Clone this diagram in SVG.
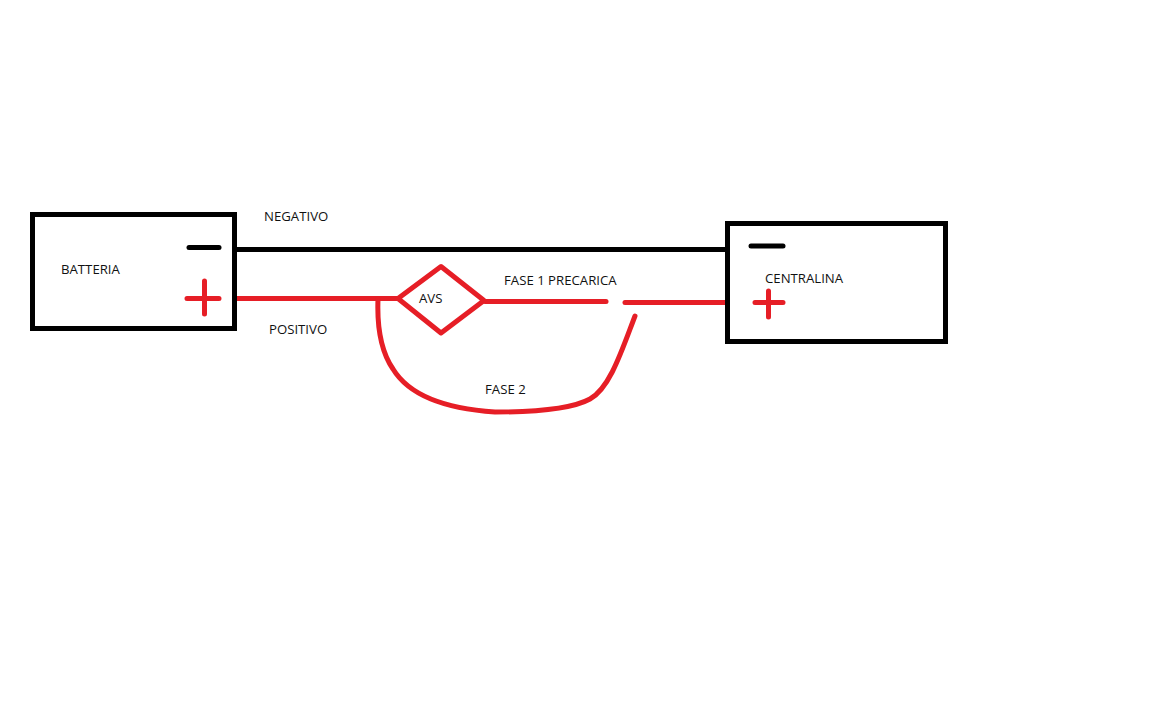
<svg xmlns="http://www.w3.org/2000/svg" width="1152" height="720" viewBox="0 0 1152 720">
<style>
.box{fill:#fff;stroke:#000;stroke-width:5}
.k{fill:none;stroke:#000;stroke-width:5}
.kr{fill:none;stroke:#000;stroke-width:5;stroke-linecap:round}
.r{fill:none;stroke:#e61e26;stroke-width:5;stroke-linecap:round}
.d{fill:#fff;stroke:#e61e26;stroke-width:5;stroke-linejoin:round}
text{font-family:"Open Sans","Noto Sans","Liberation Sans",sans-serif;font-size:13.200px;fill:#111}
</style>
<rect width="1152" height="720" fill="#fff"/>
<g id="connectors">
<path id="negativo-line" class="k" d="M236 249.500H726"/>
<path id="positivo-line" class="r" d="M235 298.500H398"/>
<path id="fase1-a" class="r" d="M485 301.500H606"/>
<path id="fase1-b" class="r" d="M625 302.500H726"/>
<path id="fase2" class="r" d="M378 299C377 325 380 350 393 369C410 397 450 409 495 412C530 412 570 410 590 399C610 388 622 350 635 316"/>
</g>
<g id="batteria">
<rect class="box" x="32.500" y="214.500" width="202" height="114"/>
<path class="kr" d="M189 247.500H219"/>
<path class="r" d="M187 298.500H219M204.500 281V314"/>
<text x="61" y="274">BATTERIA</text>
</g>
<g id="avs">
<path class="d" d="M398 298.500L441 266.500L484 300.500L441 333Z"/>
<text x="419" y="303">AVS</text>
</g>
<g id="centralina">
<rect class="box" x="727.500" y="223.500" width="218" height="118"/>
<path class="kr" d="M751 246H783"/>
<path class="r" d="M755 302.500H783M768.500 291V317"/>
<text x="765" y="283">CENTRALINA</text>
</g>
<g id="labels">
<text x="264" y="221">NEGATIVO</text>
<text x="269" y="334">POSITIVO</text>
<text x="504" y="285">FASE 1 PRECARICA</text>
<text x="485" y="394">FASE 2</text>
</g>
</svg>
